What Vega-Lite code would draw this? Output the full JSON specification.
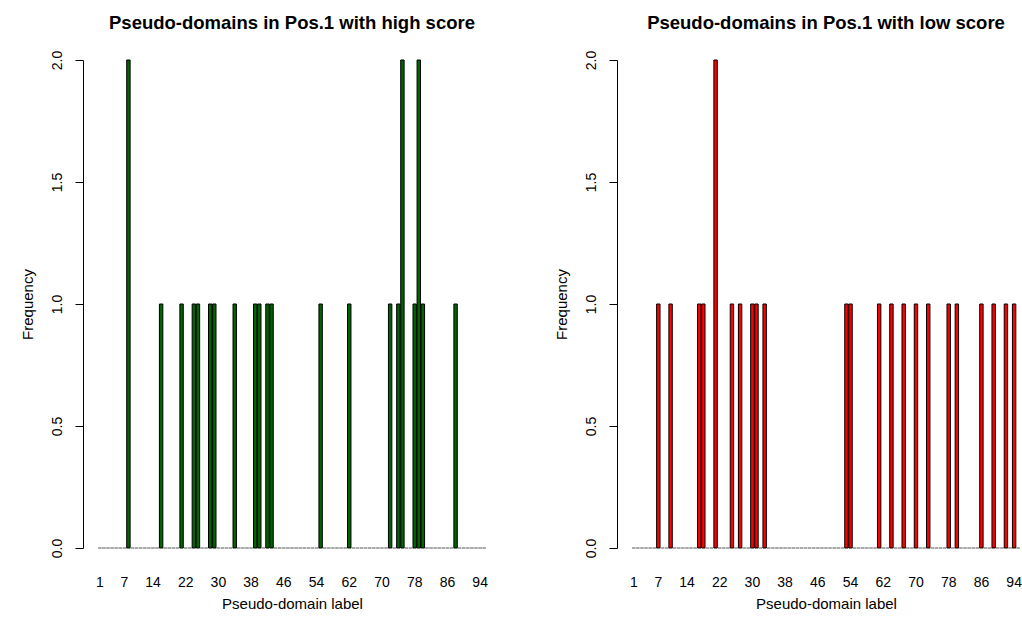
{
  "$schema": "https://vega.github.io/schema/vega-lite/v6.json",
  "background": "white",
  "padding": {"left": 20, "top": 13, "right": 0, "bottom": 0},
  "bounds": "flush",
  "spacing": 146,
  "config": {
    "font": "Liberation Sans",
    "view": {"stroke": null},
    "axis": {"labelFont": "Liberation Sans", "labelFontSize": 14, "labelColor": "black", "titleFont": "Liberation Sans", "titleFontSize": 15, "titleFontWeight": "normal", "titleColor": "black", "grid": false, "labelOverlap": false},
    "title": {"font": "Liberation Sans", "fontSize": 18.5, "fontWeight": "bold", "color": "black", "anchor": "middle"}
  },
  "datasets": {
    "high": [
      {"label":1,"freq":0},{"label":2,"freq":0},{"label":3,"freq":0},{"label":4,"freq":0},{"label":5,"freq":0},
      {"label":6,"freq":0},{"label":7,"freq":0},{"label":8,"freq":2},{"label":9,"freq":0},{"label":10,"freq":0},
      {"label":11,"freq":0},{"label":12,"freq":0},{"label":13,"freq":0},{"label":14,"freq":0},{"label":15,"freq":0},
      {"label":16,"freq":1},{"label":17,"freq":0},{"label":18,"freq":0},{"label":19,"freq":0},{"label":20,"freq":0},
      {"label":21,"freq":1},{"label":22,"freq":0},{"label":23,"freq":0},{"label":24,"freq":1},{"label":25,"freq":1},
      {"label":26,"freq":0},{"label":27,"freq":0},{"label":28,"freq":1},{"label":29,"freq":1},{"label":30,"freq":0},
      {"label":31,"freq":0},{"label":32,"freq":0},{"label":33,"freq":0},{"label":34,"freq":1},{"label":35,"freq":0},
      {"label":36,"freq":0},{"label":37,"freq":0},{"label":38,"freq":0},{"label":39,"freq":1},{"label":40,"freq":1},
      {"label":41,"freq":0},{"label":42,"freq":1},{"label":43,"freq":1},{"label":44,"freq":0},{"label":45,"freq":0},
      {"label":46,"freq":0},{"label":47,"freq":0},{"label":48,"freq":0},{"label":49,"freq":0},{"label":50,"freq":0},
      {"label":51,"freq":0},{"label":52,"freq":0},{"label":53,"freq":0},{"label":54,"freq":0},{"label":55,"freq":1},
      {"label":56,"freq":0},{"label":57,"freq":0},{"label":58,"freq":0},{"label":59,"freq":0},{"label":60,"freq":0},
      {"label":61,"freq":0},{"label":62,"freq":1},{"label":63,"freq":0},{"label":64,"freq":0},{"label":65,"freq":0},
      {"label":66,"freq":0},{"label":67,"freq":0},{"label":68,"freq":0},{"label":69,"freq":0},{"label":70,"freq":0},
      {"label":71,"freq":0},{"label":72,"freq":1},{"label":73,"freq":0},{"label":74,"freq":1},{"label":75,"freq":2},
      {"label":76,"freq":0},{"label":77,"freq":0},{"label":78,"freq":1},{"label":79,"freq":2},{"label":80,"freq":1},
      {"label":81,"freq":0},{"label":82,"freq":0},{"label":83,"freq":0},{"label":84,"freq":0},{"label":85,"freq":0},
      {"label":86,"freq":0},{"label":87,"freq":0},{"label":88,"freq":1},{"label":89,"freq":0},{"label":90,"freq":0},
      {"label":91,"freq":0},{"label":92,"freq":0},{"label":93,"freq":0},{"label":94,"freq":0},{"label":95,"freq":0}
    ],
    "low": [
      {"label":1,"freq":0},{"label":2,"freq":0},{"label":3,"freq":0},{"label":4,"freq":0},{"label":5,"freq":0},
      {"label":6,"freq":0},{"label":7,"freq":1},{"label":8,"freq":0},{"label":9,"freq":0},{"label":10,"freq":1},
      {"label":11,"freq":0},{"label":12,"freq":0},{"label":13,"freq":0},{"label":14,"freq":0},{"label":15,"freq":0},
      {"label":16,"freq":0},{"label":17,"freq":1},{"label":18,"freq":1},{"label":19,"freq":0},{"label":20,"freq":0},
      {"label":21,"freq":2},{"label":22,"freq":0},{"label":23,"freq":0},{"label":24,"freq":0},{"label":25,"freq":1},
      {"label":26,"freq":0},{"label":27,"freq":1},{"label":28,"freq":0},{"label":29,"freq":0},{"label":30,"freq":1},
      {"label":31,"freq":1},{"label":32,"freq":0},{"label":33,"freq":1},{"label":34,"freq":0},{"label":35,"freq":0},
      {"label":36,"freq":0},{"label":37,"freq":0},{"label":38,"freq":0},{"label":39,"freq":0},{"label":40,"freq":0},
      {"label":41,"freq":0},{"label":42,"freq":0},{"label":43,"freq":0},{"label":44,"freq":0},{"label":45,"freq":0},
      {"label":46,"freq":0},{"label":47,"freq":0},{"label":48,"freq":0},{"label":49,"freq":0},{"label":50,"freq":0},
      {"label":51,"freq":0},{"label":52,"freq":0},{"label":53,"freq":1},{"label":54,"freq":1},{"label":55,"freq":0},
      {"label":56,"freq":0},{"label":57,"freq":0},{"label":58,"freq":0},{"label":59,"freq":0},{"label":60,"freq":0},
      {"label":61,"freq":1},{"label":62,"freq":0},{"label":63,"freq":0},{"label":64,"freq":1},{"label":65,"freq":0},
      {"label":66,"freq":0},{"label":67,"freq":1},{"label":68,"freq":0},{"label":69,"freq":0},{"label":70,"freq":1},
      {"label":71,"freq":0},{"label":72,"freq":0},{"label":73,"freq":1},{"label":74,"freq":0},{"label":75,"freq":0},
      {"label":76,"freq":0},{"label":77,"freq":0},{"label":78,"freq":1},{"label":79,"freq":0},{"label":80,"freq":1},
      {"label":81,"freq":0},{"label":82,"freq":0},{"label":83,"freq":0},{"label":84,"freq":0},{"label":85,"freq":0},
      {"label":86,"freq":1},{"label":87,"freq":0},{"label":88,"freq":0},{"label":89,"freq":1},{"label":90,"freq":0},
      {"label":91,"freq":0},{"label":92,"freq":1},{"label":93,"freq":0},{"label":94,"freq":1},{"label":95,"freq":0}
    ]
  },
  "hconcat": [
    {
      "data": {"name": "high"},
      "title": {"text": "Pseudo-domains in Pos.1 with high score", "offset": 18},
      "width": 388,
      "height": 488,
      "mark": {"type": "bar", "fill": "#006400", "strokeWidth": 1},
      "encoding": {
        "x": {"field": "label", "type": "ordinal", "scale": {"paddingInner": 0.1667, "paddingOuter": 0.02},
          "axis": {"values": [1,7,14,22,30,38,46,54,62,70,78,86,94], "labelAngle": 0, "ticks": false, "domain": false, "labelOverlap": false, "labelBound": false, "labelFlush": false, "labelPadding": 27, "title": "Pseudo-domain label", "titlePadding": 7}},
        "y": {"field": "freq", "type": "quantitative", "scale": {"domain": [0, 2], "nice": false},
          "axis": {"values": [0, 0.5, 1, 1.5, 2], "format": ".1f", "offset": 15, "tickSize": 8, "tickColor": "black", "domainColor": "black", "labelAngle": 270, "labelPadding": 11, "title": "Frequency", "titlePadding": 15}},
        "stroke": {"condition": {"test": "datum.freq == 0", "value": "#8c8c8c"}, "value": "black"}
      }
    },
    {
      "data": {"name": "low"},
      "title": {"text": "Pseudo-domains in Pos.1 with low score", "offset": 18},
      "width": 388,
      "height": 488,
      "mark": {"type": "bar", "fill": "#FF0000", "strokeWidth": 1},
      "encoding": {
        "x": {"field": "label", "type": "ordinal", "scale": {"paddingInner": 0.1667, "paddingOuter": 0.02},
          "axis": {"values": [1,7,14,22,30,38,46,54,62,70,78,86,94], "labelAngle": 0, "ticks": false, "domain": false, "labelOverlap": false, "labelBound": false, "labelFlush": false, "labelPadding": 27, "title": "Pseudo-domain label", "titlePadding": 7}},
        "y": {"field": "freq", "type": "quantitative", "scale": {"domain": [0, 2], "nice": false},
          "axis": {"values": [0, 0.5, 1, 1.5, 2], "format": ".1f", "offset": 15, "tickSize": 8, "tickColor": "black", "domainColor": "black", "labelAngle": 270, "labelPadding": 11, "title": "Frequency", "titlePadding": 15}},
        "stroke": {"condition": {"test": "datum.freq == 0", "value": "#8c8c8c"}, "value": "black"}
      }
    }
  ]
}
